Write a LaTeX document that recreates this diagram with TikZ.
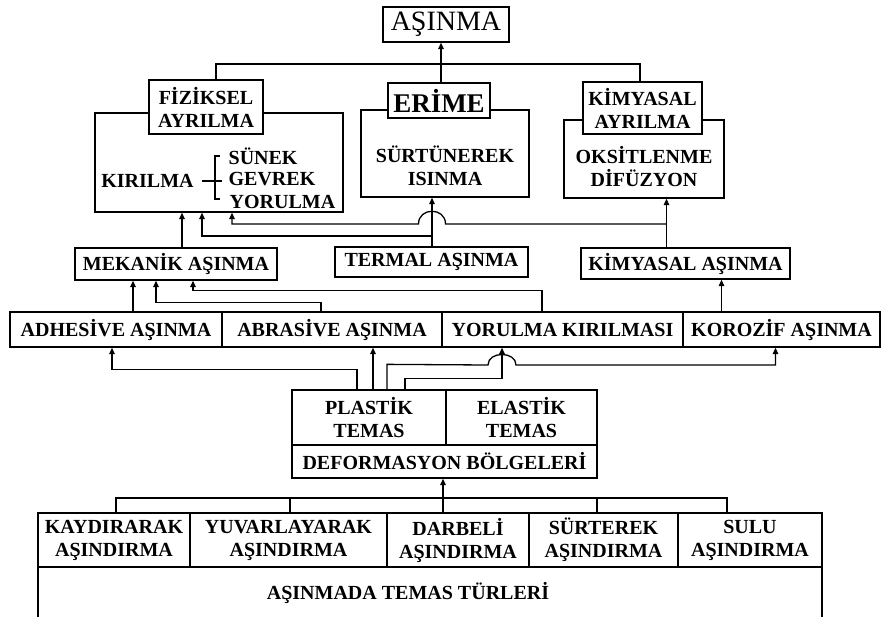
\documentclass[tikz,border=0pt]{standalone}
\usepackage{fontspec}
\setmainfont{Liberation Serif}
\usetikzlibrary{arrows.meta}
\begin{document}
\begin{tikzpicture}[x=1pt,y=-1pt,
  line width=1.3pt,
  box/.style={draw, rectangle, inner sep=0pt, align=center, font=\bfseries\fontsize{20}{23}\selectfont},
  lab/.style={box, fill=white},
  txt/.style={inner sep=0pt, align=center, font=\bfseries\fontsize{20}{23}\selectfont},
  arr/.style={-{Triangle[length=6.5pt,width=5.5pt]}},
]
\useasboundingbox (0,0) rectangle (882,616);
\clip (0,0) rectangle (882,616);

% ---------- top level ----------
\node[box, minimum width=126pt, minimum height=35pt, font=\fontsize{28}{30}\selectfont] (asinma) at (446,24.5) {AŞINMA};

\node[box, minimum width=248pt, minimum height=99pt] (fizbig) at (219,162.5) {};
\node[lab, minimum width=114pt, minimum height=54pt] (fiz) at (206,107) {FİZİKSEL\\AYRILMA};

\node[box, minimum width=168pt, minimum height=87pt] (surbig) at (445,153.5) {};
\node[txt] (sur) at (445,166) {SÜRTÜNEREK\\ISINMA};
\node[lab, minimum width=102pt, minimum height=35pt, font=\bfseries\fontsize{27}{30}\selectfont] (erime) at (439,100.5) {ERİME};

\node[box, minimum width=160pt, minimum height=78pt] (kimbig) at (644,159) {};
\node[txt] (oks) at (644,167) {OKSİTLENME\\DİFÜZYON};
\node[lab, minimum width=119pt, minimum height=52pt] (kimlab) at (642.5,108) {KİMYASAL\\AYRILMA};

% kirilma bracket
\node[txt] (kir) at (147.5,181) {KIRILMA};
\node[txt, anchor=west] (sun) at (228,156) {SÜNEK};
\node[txt, anchor=west] (gev) at (228,179) {GEVREK};
\node[txt, anchor=west] (yrl) at (229,202) {YORULMA};
\coordinate (brA) at (220,156);
\coordinate (brB) at (215,156);
\coordinate (brC) at (215,199);
\coordinate (brD) at (220,199);
\draw (brA) -- (brB) -- (brC) -- (brD);
\coordinate (hk1) at (202,181);
\coordinate (hk2) at (222,181);
\draw (hk1) -- (hk2);

% ---------- middle level ----------
\node[box, minimum width=202pt, minimum height=32pt] (mek) at (176,264) {MEKANİK AŞINMA};
\node[box, minimum width=193pt, minimum height=30pt] (termal) at (431.5,262) {TERMAL AŞINMA};
\node[box, minimum width=209pt, minimum height=31pt] (kimas) at (685.5,263.5) {KİMYASAL AŞINMA};

\node[box, minimum width=212pt, minimum height=35pt] (adh) at (116,329.5) {ADHESİVE AŞINMA};
\node[box, minimum width=220pt, minimum height=35pt] (abr) at (332,329.5) {ABRASİVE AŞINMA};
\node[box, minimum width=241pt, minimum height=35pt] (yor) at (562.5,329.5) {YORULMA KIRILMASI};
\node[box, minimum width=197pt, minimum height=35pt] (kor) at (781.5,329.5) {KOROZİF AŞINMA};

% ---------- deformation ----------
\node[box, minimum width=154pt, minimum height=55pt] (plas) at (369,417.5) {PLASTİK\\TEMAS};
\node[box, minimum width=151pt, minimum height=55pt] (elas) at (521.5,417.5) {ELASTİK\\TEMAS};
\node[box, minimum width=305pt, minimum height=33pt] (def) at (444.5,461.5) {DEFORMASYON BÖLGELERİ};

% ---------- bottom ----------
\node[box, minimum width=152pt, minimum height=54pt] (kay) at (114,540) {KAYDIRARAK\\AŞINDIRMA};
\node[box, minimum width=197pt, minimum height=54pt] (yuv) at (288.5,540) {YUVARLAYARAK\\AŞINDIRMA};
\node[box, minimum width=142pt, minimum height=54pt] (dar) at (458,540) {DARBELİ\\AŞINDIRMA};
\node[box, minimum width=149pt, minimum height=54pt] (srt) at (603.5,540) {SÜRTEREK\\AŞINDIRMA};
\node[box, minimum width=144pt, minimum height=54pt] (sul) at (750,540) {SULU\\AŞINDIRMA};
\node[box, minimum width=784pt, minimum height=70pt, anchor=north] (turbox) at (430,567) {};
\node[txt] (tur) at (408,593) {AŞINMADA TEMAS TÜRLERİ};

% ---------- connectors ----------
\coordinate (topbus) at (441,64);
\draw ([xshift=10pt]fiz.north) |- (topbus) -| ([xshift=-2.5pt]kimlab.north);
\draw[arr] ([xshift=2pt]erime.north) -- ([xshift=-5pt]asinma.south);

% mekanik -> fiziksel
\coordinate (m1) at ([xshift=6pt]mek.north);
\draw[arr] (m1) -- (m1 |- fizbig.south);

% termal
\coordinate (t0) at ([xshift=0.5pt]termal.north);
\draw[arr] (t0) -- (t0 |- surbig.south);
\coordinate (tj) at (432,236);
\coordinate (f2) at ([xshift=-17pt]fizbig.south);
\draw[arr] (tj) -| (f2);

% kimyasal asinma
\coordinate (k0) at ([xshift=-19pt]kimas.north);
\draw[arr] (k0) -- (k0 |- kimbig.south);
\coordinate (kj) at (666.5,224);
\coordinate (kh1) at (445.5,224);
\coordinate (kh2) at (418.5,224);
\coordinate (f3) at ([xshift=13pt]fizbig.south);
\draw[arr] (kj) -- (kh1) .. controls +(0,-17) and +(0,-17) .. (kh2) -| (f3);

% row -> mekanik / kimyasal
\coordinate (a0) at ([xshift=17pt]adh.north);
\draw[arr] (a0) -- (a0 |- mek.south);
\coordinate (b0) at ([xshift=-11pt]abr.north);
\coordinate (m2) at ([xshift=-20pt]mek.south);
\draw[arr] (b0) -- ++(0,-9) -| (m2);
\coordinate (y0) at ([xshift=-20.5pt]yor.north);
\coordinate (m3) at ([xshift=17pt]mek.south);
\draw[arr] (y0) -- ++(0,-21) -| (m3);
\coordinate (r0) at ([xshift=-60pt]kor.north);
\draw[arr] (r0) -- (r0 |- kimas.south);

% plastik -> row
\coordinate (p1) at ([xshift=-12pt]plas.north);
\coordinate (p2) at ([xshift=4pt]plas.north);
\coordinate (p3) at ([xshift=18pt]plas.north);
\coordinate (p4) at ([xshift=36pt]plas.north);
\draw[arr] (p1) -- ++(0,-20) -| ([xshift=-4pt]adh.south);
\draw[arr] (p2) -- (p2 |- abr.south);
\coordinate (yv) at ([xshift=-60.5pt]yor.south);
\draw[arr] (p4) -- ++(0,-11) -| (yv);
\coordinate (ph1) at (488,365);
\coordinate (ph2) at (516,365);
\draw[arr] (p3) -- ++(0,-25) -- (ph1) .. controls +(0,-14) and +(0,-14) .. (ph2) -| ([xshift=-6pt]kor.south);

% bottom -> deformasyon
\coordinate (d0) at ([xshift=-15pt]dar.north);
\draw[arr] (d0) -- (d0 |- def.south);
\coordinate (bus) at (443,498);
\draw ([xshift=2pt]kay.north) |- (bus) -| ([xshift=-23pt]sul.north);
\draw ([xshift=1.5pt]yuv.north) -- ++(0,-15);
\draw ([xshift=-6.5pt]srt.north) -- ++(0,-15);
\end{tikzpicture}
\end{document}
